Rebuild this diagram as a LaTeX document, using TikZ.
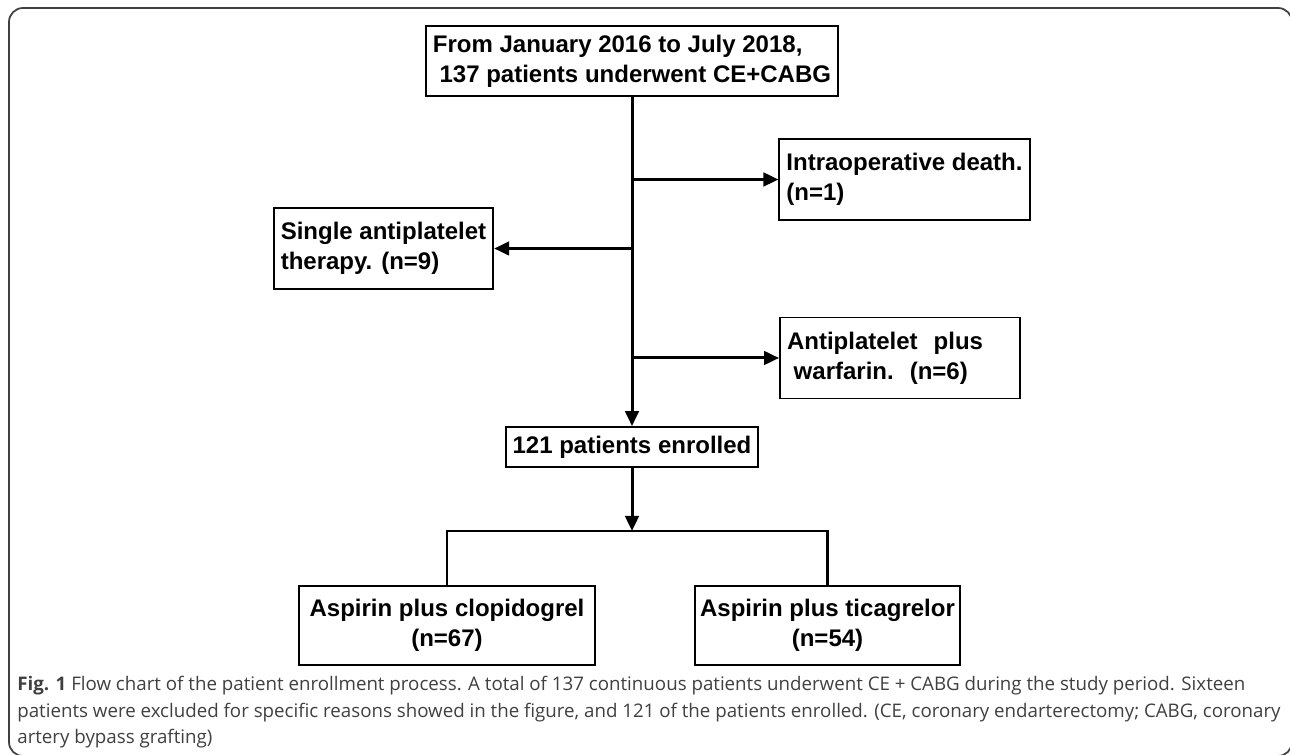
\documentclass[tikz,border=0pt]{standalone}
\usepackage{fontspec}
\setmainfont{Liberation Sans}
\newfontfamily\capfont{Open Sans}
\usetikzlibrary{arrows.meta}
\usetikzlibrary{positioning}

\begin{document}
\begin{tikzpicture}[
  box/.style={draw,line width=1.1pt,inner xsep=0.14cm,inner ysep=0.175cm,align=left,font=\fontsize{13.66}{17.07}\selectfont\bfseries},
  sidebox/.style={box,minimum height=1.62cm},
  armbox/.style={box,minimum height=1.58cm,align=center,inner xsep=0.1cm},
  conn/.style={line width=1.7pt},
  arr/.style={line width=1.7pt,-{Triangle[length=0.3cm,width=0.27cm]}}]
\useasboundingbox (0,0) rectangle (25.8,15.1);
\draw[black!75,line width=1pt,rounded corners=0.28cm] (0.18,14.94) rectangle (25.84,-0.02);

\node[box] (start) at (12.64,13.88) {From January 2016 to July 2018,\\\hspace*{0.28em}137 patients underwent CE+CABG};
\node[sidebox] (death) at (18.09,11.51) {Intraoperative death.\\(n=1)};
\node[sidebox] (single) at (7.67,10.13) {Single antiplatelet\\therapy. (n=9)};
\node[sidebox,text width=4.52cm] (warf) at (18.0,7.94) {Antiplatelet\ \ plus\\\hspace*{0.28em}warfarin.\ \ (n=6)};
\node[box] (enrolled) at (12.64,6.16) {121 patients enrolled};
\coordinate (split) at (12.64,4.48);
\node[armbox,minimum width=5.92cm] (clopi) at (8.94,2.59) {Aspirin plus clopidogrel\\(n=67)};
\node[armbox,minimum width=5.3cm] (ticag) at (16.55,2.59) {Aspirin plus ticagrelor\\(n=54)};

\draw[arr] (start.south) -- (enrolled.north);
\draw[arr] (start.south |- death.west) -- (death.west);
\draw[arr] (start.south |- single.east) -- (single.east);
\draw[arr] (start.south |- warf.west) -- (warf.west);
\draw[arr] (enrolled.south) -- (split);
\draw[conn] (clopi.north) |- (split) -| (ticag.north);

\node[anchor=north west,inner sep=0,align=left,text=black!75,font=\capfont\fontsize{10.65}{15.1}\selectfont] (caption) at (0.34,1.58)
{\textbf{Fig. 1} Flow chart of the patient enrollment process. A total of 137 continuous patients underwent CE + CABG during the study period. Sixteen\\
patients were excluded for specific reasons showed in the figure, and 121 of the patients enrolled. (CE, coronary endarterectomy; CABG, coronary\\
artery bypass grafting)};
\end{tikzpicture}
\end{document}
